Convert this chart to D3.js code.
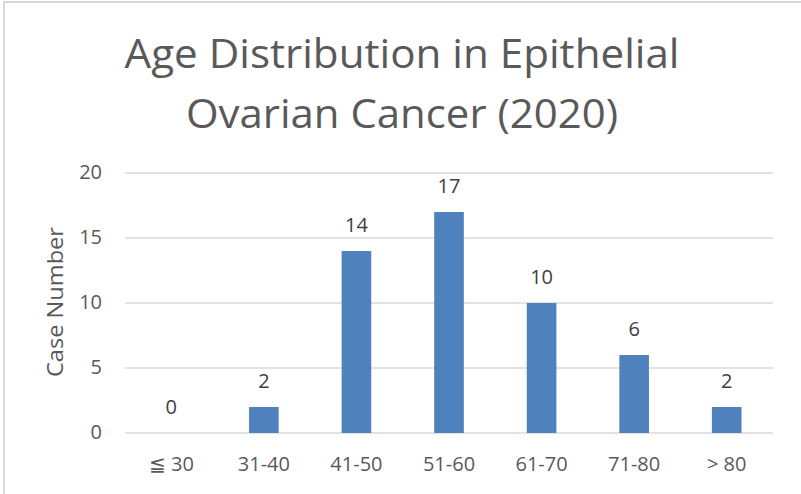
<!DOCTYPE html>
<html>
<head>
<meta charset="utf-8">
<script src="https://cdn.jsdelivr.net/npm/d3@7/dist/d3.min.js"></script>
<style>
  html, body { margin: 0; padding: 0; background: #fff; }
  svg { display: block; }
  text { font-family: "Open Sans", "Noto Sans", sans-serif; }
</style>
</head>
<body>
<svg id="chart" width="801" height="494"></svg>
<script>
const categories = ["≦ 30", "31-40", "41-50", "51-60", "61-70", "71-80", "> 80"];
const caseCounts = [0, 2, 14, 17, 10, 6, 2];
const yTicks = [0, 5, 10, 15, 20];
const titleLines = ["Age Distribution in Epithelial", "Ovarian Cancer (2020)"];
const yAxisTitle = "Case Number";

const svg = d3.select("#chart");
const W = 801, H = 494;
const margin = { left: 125, right: 28, top: 173, bottom: 61 };
const FONT = '"Open Sans", "Noto Sans", sans-serif';

// outer border (chart area frame)
svg.append("rect")
  .attr("x", 4).attr("y", 2).attr("width", W + 10).attr("height", H + 10)
  .attr("fill", "none").attr("stroke", "#d9d9d9").attr("stroke-width", 2);

const x = d3.scaleBand().domain(categories).range([margin.left, W - margin.right]).paddingInner(0.68).paddingOuter(0.34);
const y = d3.scaleLinear().domain([0, 20]).range([H - margin.bottom, margin.top]);

// gridlines
svg.append("g").selectAll("line").data(yTicks).join("line")
  .attr("x1", margin.left).attr("x2", W - margin.right)
  .attr("y1", d => y(d)).attr("y2", d => y(d))
  .attr("stroke", "#d9d9d9").attr("stroke-width", 1.5);

// y axis labels
const yAxis = d3.axisLeft(y).tickValues(yTicks).tickSize(0).tickPadding(0);
const gy = svg.append("g").attr("transform", `translate(${margin.left - 23},0)`).call(yAxis);
gy.select(".domain").remove();
gy.selectAll("text").attr("font-size", 20).attr("fill", "#595959").attr("font-family", FONT).attr("dy", "0.27em");

// x axis labels
const xAxis = d3.axisBottom(x).tickSize(0).tickPadding(0);
const gx = svg.append("g").attr("transform", `translate(0,${y(0)})`).call(xAxis);
gx.select(".domain").remove();
gx.selectAll("text").attr("font-size", 20).attr("fill", "#595959").attr("font-family", FONT)
  .attr("y", 38).attr("dy", 0);

// bars
svg.append("g").selectAll("rect").data(caseCounts).join("rect")
  .attr("x", (d, i) => x(categories[i]))
  .attr("width", x.bandwidth())
  .attr("y", d => y(d))
  .attr("height", d => y(0) - y(d))
  .attr("fill", "#4f81bd");

// data labels
svg.append("g").selectAll("text").data(caseCounts).join("text")
  .attr("x", (d, i) => x(categories[i]) + x.bandwidth() / 2)
  .attr("y", d => y(d) - 19)
  .attr("text-anchor", "middle")
  .attr("font-size", 20).attr("fill", "#404040")
  .text(d => d);

// title
const titleWidths = [555, 432];
svg.append("g").selectAll("text").data(titleLines).join("text")
  .attr("x", 402)
  .attr("y", (d, i) => 68 + i * 60)
  .attr("text-anchor", "middle")
  .attr("font-size", 40).attr("fill", "#595959")
  .attr("textLength", (d, i) => titleWidths[i])
  .attr("lengthAdjust", "spacingAndGlyphs")
  .text(d => d);

// y axis title
svg.append("text")
  .attr("transform", `translate(63,${(y(0) + y(20)) / 2 - 1}) rotate(-90)`)
  .attr("text-anchor", "middle")
  .attr("font-size", 22).attr("fill", "#595959")
  .attr("textLength", 150)
  .attr("lengthAdjust", "spacingAndGlyphs")
  .text(yAxisTitle);
</script>
</body>
</html>
